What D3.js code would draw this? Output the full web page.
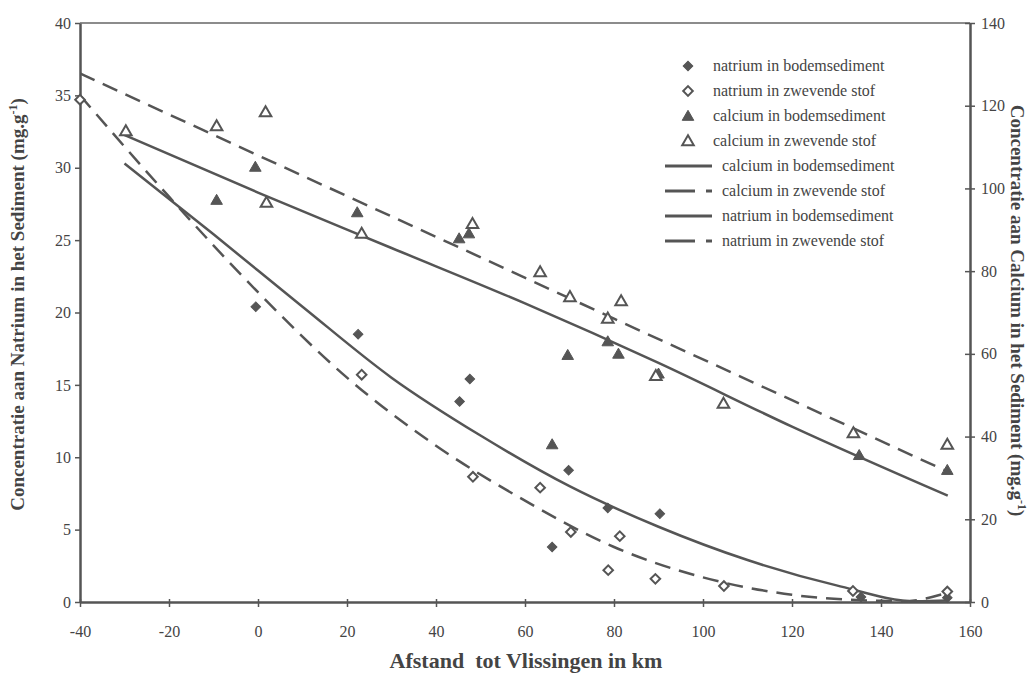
<!DOCTYPE html>
<html>
<head>
<meta charset="utf-8">
<script src="https://d3js.org/d3.v7.min.js"></script>
<style>
  body { margin: 0; background: #fff; }
  svg text { font-family: "Liberation Serif", "Times New Roman", serif; fill: #444; }
  .axis path, .axis line { stroke: #555; }
  .axis text { font-size: 16px; fill: #444; }
  .trend { fill: none; stroke: #555; stroke-width: 2.5px; }
  .dashed { stroke-dasharray: 16, 9; }
</style>
</head>
<body>
<svg id="chart" width="1033" height="675"></svg>
<script>
// measured points: [km, value]; natrium on left axis, calcium on right axis
const natriumBodem = [[-0.5, 20.4], [22.5, 18.5], [45.3, 13.85], [47.6, 15.4], [66.1, 3.8], [69.8, 9.1],
                      [78.6, 6.5], [90.3, 6.1], [135.5, 0.35], [154.9, 0.3]];
const natriumZwevend = [[-40, 34.7], [23.3, 15.7], [48.3, 8.65], [63.4, 7.9], [70.3, 4.84], [78.7, 2.2],
                        [81.3, 4.55], [89.3, 1.6], [104.7, 1.1], [133.7, 0.76], [154.9, 0.72]];
const calciumBodem = [[-9.3, 97.2], [-0.6, 105.2], [22.3, 94.2], [45.2, 87.9], [47.4, 89.1], [66.1, 38.1],
                      [69.6, 59.7], [78.6, 63.0], [81.0, 60.0], [90.0, 55.2], [135.1, 35.5], [154.9, 31.9]];
const calciumZwevend = [[-29.7, 113.9], [-9.3, 115.1], [1.7, 118.5], [1.9, 96.6], [23.3, 89.1], [48.2, 91.5],
                        [63.4, 79.8], [70.1, 73.8], [78.6, 68.6], [81.6, 72.8], [89.4, 54.7], [104.6, 48.0],
                        [133.8, 40.9], [154.9, 38.1]];

// trend curves
const trendCaBodem = [[-30, 112.9], [0, 99.0], [30, 85.6], [60, 72.2], [90, 57.8], [120, 42.4], [155, 25.7]];
const trendCaZwevend = [[-40, 127.8], [0, 108.0], [40, 88.3], [80, 68.5], [120, 48.8], [155, 31.5]];
const trendNaBodem = [[-30, 30.3], [-10, 25.4], [10, 20.4], [30, 15.5], [50, 11.5], [70, 8.0], [90, 5.2],
                      [110, 2.9], [130, 1.15], [148, 0.05], [155, 0.1]];
const trendNaZwevend = [[-40, 35.0], [-20, 28.0], [0, 21.4], [20, 15.5], [40, 10.8], [60, 7.0], [80, 3.8],
                        [100, 1.7], [120, 0.5], [140, 0.08], [145, 0.05], [155, 0.65]];

const xTicks = [-40, -20, 0, 20, 40, 60, 80, 100, 120, 140, 160];
const leftTicks = [0, 5, 10, 15, 20, 25, 30, 35, 40];
const rightTicks = [0, 20, 40, 60, 80, 100, 120, 140];

const legendItems = [
  { label: "natrium in bodemsediment", kind: "diamond", filled: true },
  { label: "natrium in zwevende stof", kind: "diamond", filled: false },
  { label: "calcium in bodemsediment", kind: "triangle", filled: true },
  { label: "calcium in zwevende stof", kind: "triangle", filled: false },
  { label: "calcium in bodemsediment", kind: "line", dashed: false },
  { label: "calcium in zwevende stof", kind: "line", dashed: true },
  { label: "natrium in bodemsediment", kind: "line", dashed: false },
  { label: "natrium in zwevende stof", kind: "line", dashed: true }
];

const FONT = "Liberation Serif, Times New Roman, serif";
const svg = d3.select("#chart");
const margin = { top: 23, right: 63, bottom: 73, left: 80 };
const width = 1033 - margin.left - margin.right;
const height = 675 - margin.top - margin.bottom;
const g = svg.append("g").attr("transform", `translate(${margin.left},${margin.top})`);

const x = d3.scaleLinear().domain([-40, 160]).range([0, width]);
const yNa = d3.scaleLinear().domain([0, 40]).range([height, 0]);
const yCa = d3.scaleLinear().domain([0, 140]).range([height, 0]);
const plain = d => String(d);   // hyphen minus like the original

g.append("clipPath").attr("id", "plotclip")
  .append("rect").attr("x", 0).attr("y", 0).attr("width", width).attr("height", height + 1);

// top frame line
g.append("line").attr("x1", 0).attr("x2", width).attr("y1", 0).attr("y2", 0)
  .attr("stroke", "#666").attr("stroke-width", 1.5);

const xAxis = g.append("g").attr("class", "axis")
  .attr("transform", `translate(0,${height})`)
  .call(d3.axisBottom(x).tickValues(xTicks).tickFormat(plain).tickSize(5).tickSizeOuter(0).tickPadding(19));
xAxis.select(".domain").attr("stroke-width", 2.5);
xAxis.selectAll(".tick line").attr("y1", -3).attr("stroke-width", 1.5);

const leftAxis = g.append("g").attr("class", "axis")
  .call(d3.axisLeft(yNa).tickValues(leftTicks).tickFormat(plain).tickSize(5).tickSizeOuter(0).tickPadding(4));
leftAxis.select(".domain").attr("stroke-width", 2.5);
leftAxis.selectAll(".tick line").attr("stroke-width", 1.5);

const rightAxis = g.append("g").attr("class", "axis")
  .attr("transform", `translate(${width},0)`)
  .call(d3.axisRight(yCa).tickValues(rightTicks).tickFormat(plain).tickSize(5).tickSizeOuter(0).tickPadding(6));
rightAxis.select(".domain").attr("stroke-width", 2.5);
rightAxis.selectAll(".tick line").attr("x1", -5).attr("stroke-width", 1.5);

// trend lines
const plot = g.append("g").attr("clip-path", "url(#plotclip)");
const lineNa = d3.line().x(d => x(d[0])).y(d => yNa(d[1])).curve(d3.curveMonotoneX);
const lineCa = d3.line().x(d => x(d[0])).y(d => yCa(d[1])).curve(d3.curveMonotoneX);

plot.append("path").datum(trendCaBodem).attr("class", "trend").attr("d", lineCa);
plot.append("path").datum(trendCaZwevend).attr("class", "trend dashed").attr("d", lineCa);
plot.append("path").datum(trendNaBodem).attr("class", "trend").attr("d", lineNa);
plot.append("path").datum(trendNaZwevend).attr("class", "trend dashed").attr("d", lineNa);

// markers: diamond = square turned 45 degrees
const diamond = d3.symbol().type(d3.symbolSquare).size(46);
const triangle = d3.symbol().type(d3.symbolTriangle).size(58);

function markerTransform(kind, px, py) {
  return kind === "diamond" ? `translate(${px},${py}) rotate(45)` : `translate(${px},${py + 1})`;
}

function drawMarkers(data, yScale, kind, filled) {
  g.selectAll(null).data(data).join("path")
    .attr("d", kind === "diamond" ? diamond : triangle)
    .attr("transform", d => markerTransform(kind, x(d[0]), yScale(d[1])))
    .attr("fill", filled ? "#555" : "#fff")
    .attr("stroke", "#555")
    .attr("stroke-width", filled ? 1 : 2);
}
drawMarkers(calciumBodem, yCa, "triangle", true);
drawMarkers(calciumZwevend, yCa, "triangle", false);
drawMarkers(natriumBodem, yNa, "diamond", true);
drawMarkers(natriumZwevend, yNa, "diamond", false);

// legend
const legend = svg.append("g").attr("transform", "translate(665,66)");
legendItems.forEach((d, i) => {
  const row = legend.append("g").attr("transform", `translate(0,${i * 25})`);
  if (d.kind === "line") {
    if (d.dashed) {
      row.append("line").attr("x1", 0).attr("x2", 30).attr("y1", 0).attr("y2", 0)
        .attr("stroke", "#555").attr("stroke-width", 3);
      row.append("line").attr("x1", 41).attr("x2", 47).attr("y1", 0).attr("y2", 0)
        .attr("stroke", "#555").attr("stroke-width", 3);
    } else {
      row.append("line").attr("x1", 0).attr("x2", 47).attr("y1", 0).attr("y2", 0)
        .attr("stroke", "#555").attr("stroke-width", 3);
    }
    row.append("text").attr("x", 57).attr("y", 5).attr("font-size", 16).text(d.label);
  } else {
    row.append("path")
      .attr("d", d.kind === "diamond" ? diamond : triangle)
      .attr("transform", markerTransform(d.kind, 23, 0))
      .attr("fill", d.filled ? "#555" : "#fff")
      .attr("stroke", "#555")
      .attr("stroke-width", d.filled ? 1 : 2);
    row.append("text").attr("x", 48).attr("y", 5).attr("font-size", 16).text(d.label);
  }
});

// axis titles
const leftTitle = svg.append("text")
  .attr("transform", `translate(24,${margin.top + height / 2 - 8}) rotate(-90)`)
  .attr("text-anchor", "middle").attr("font-size", 19).attr("font-weight", "bold");
leftTitle.append("tspan").text("Concentratie aan Natrium in het Sediment (mg.g");
leftTitle.append("tspan").attr("dy", -7).attr("font-size", 12).text("-1");
leftTitle.append("tspan").attr("dy", 7).text(")");

const rightTitle = svg.append("text")
  .attr("transform", `translate(1011,${margin.top + height / 2 - 2}) rotate(90)`)
  .attr("text-anchor", "middle").attr("font-size", 19).attr("font-weight", "bold");
rightTitle.append("tspan").text("Concentratie aan Calcium in het Sediment (mg.g");
rightTitle.append("tspan").attr("dy", -7).attr("font-size", 12).text("-1");
rightTitle.append("tspan").attr("dy", 7).text(")");

svg.append("text")
  .attr("x", 526).attr("y", 668)
  .attr("text-anchor", "middle").attr("font-size", 22).attr("font-weight", "bold")
  .attr("xml:space", "preserve")
  .text("Afstand  tot Vlissingen in km");

// make sure every label uses the Times-like face
svg.selectAll("g.axis").attr("font-family", FONT);
svg.selectAll("text").attr("font-family", FONT);
</script>
</body>
</html>
